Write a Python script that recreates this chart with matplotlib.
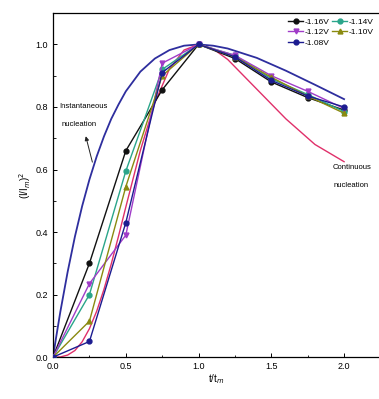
import numpy as np
import matplotlib
matplotlib.use("Agg")
import matplotlib.pyplot as plt
from matplotlib.ticker import MultipleLocator

plt.rcParams["font.family"] = ["Liberation Sans Narrow", "Liberation Sans", "DejaVu Sans"]

# experimental points, t/tm vs (I/Im)^2
t_exp = [0.0, 0.25, 0.5, 0.75, 1.0, 1.25, 1.5, 1.75, 2.0]
v116 = [0.0, 0.30, 0.66, 0.855, 1.0, 0.955, 0.88, 0.83, 0.79]
v114 = [0.0, 0.20, 0.595, 0.92, 1.0, 0.965, 0.89, 0.84, 0.785]
v112 = [0.0, 0.235, 0.39, 0.94, 1.0, 0.965, 0.90, 0.85, 0.795]
v110 = [0.0, 0.115, 0.545, 0.90, 1.0, 0.96, 0.895, 0.835, 0.78]
v108 = [0.0, 0.05, 0.43, 0.91, 1.0, 0.96, 0.885, 0.835, 0.80]

# theoretical curves
t_th = [0.0, 0.02, 0.05, 0.1, 0.15, 0.2, 0.25, 0.3, 0.35, 0.4, 0.45, 0.5,
        0.6, 0.7, 0.8, 0.9, 1.0, 1.1, 1.2, 1.4, 1.6, 1.8, 2.0]
inst = [0.0, 0.060, 0.145, 0.272, 0.385, 0.483, 0.568, 0.642, 0.706, 0.762,
        0.808, 0.850, 0.913, 0.955, 0.982, 0.996, 1.0, 0.996, 0.987, 0.957,
        0.916, 0.871, 0.825]
cont = [0.0, 0.0, 0.0005, 0.0065, 0.021, 0.049, 0.091, 0.147, 0.217, 0.298,
        0.387, 0.480, 0.661, 0.814, 0.922, 0.982, 1.0, 0.986, 0.952, 0.857,
        0.762, 0.680, 0.625]

series = [
    ("-1.16V", v116, "#111111", "o"),
    ("-1.14V", v114, "#2aa58a", "o"),
    ("-1.12V", v112, "#a03cc8", "v"),
    ("-1.10V", v110, "#8a8a10", "^"),
    ("-1.08V", v108, "#1c1c90", "o"),
]

fig = plt.figure(figsize=(3.79, 3.99), dpi=100)
ax = fig.add_axes([0.14, 0.105, 0.86, 0.862])

ax.plot(t_th, inst, color="#2e2e9e", lw=1.3, zorder=2)
ax.plot(t_th, cont, color="#e0306a", lw=1.0, zorder=2)

handles = {}
for name, vals, col, mk in series:
    h, = ax.plot(t_exp, vals, color=col, lw=1.0, marker=mk, ms=3.5,
                 label=name, zorder=3)
    handles[name] = h

order = ["-1.16V", "-1.12V", "-1.08V", "-1.14V", "-1.10V"]
ax.legend([handles[n] for n in order], order, loc="upper right", ncol=2,
          frameon=False, fontsize=6, handlelength=1.8, handletextpad=0.2,
          columnspacing=0.3, labelspacing=0.3, borderaxespad=0.2)

ax.text(0.04, 0.80, "Instantaneous", fontsize=5.5, va="center", ha="left")
ax.text(0.06, 0.745, "nucleation", fontsize=5.5, va="center", ha="left")
ax.annotate("", xy=(0.22, 0.715), xytext=(0.275, 0.615),
            arrowprops=dict(arrowstyle="-|>", color="#222222", lw=0.7,
                            mutation_scale=6))

ax.text(1.92, 0.605, "Continuous", fontsize=5.5, va="center", ha="left")
ax.text(1.93, 0.55, "nucleation", fontsize=5.5, va="center", ha="left")

ax.set_xlim(0, 2.24)
ax.set_ylim(0, 1.1)
ax.xaxis.set_major_locator(MultipleLocator(0.5))
ax.xaxis.set_minor_locator(MultipleLocator(0.25))
ax.yaxis.set_major_locator(MultipleLocator(0.2))
ax.yaxis.set_minor_locator(MultipleLocator(0.1))
ax.xaxis.set_major_formatter(plt.FormatStrFormatter("%.1f"))
ax.yaxis.set_major_formatter(plt.FormatStrFormatter("%.1f"))
ax.tick_params(direction="in", labelsize=6.5, length=3, width=0.7)
ax.tick_params(which="minor", direction="in", length=1.8, width=0.6)
ax.spines["right"].set_visible(False)
for s in ["left", "bottom", "top"]:
    ax.spines[s].set_linewidth(0.9)

ax.set_xlabel(r"t/t$_{m}$", fontsize=7, labelpad=1)
ax.set_ylabel(r"(I/I$_{m}$)$^{2}$", fontsize=7, labelpad=2)

fig.savefig("out.png", dpi=100)
